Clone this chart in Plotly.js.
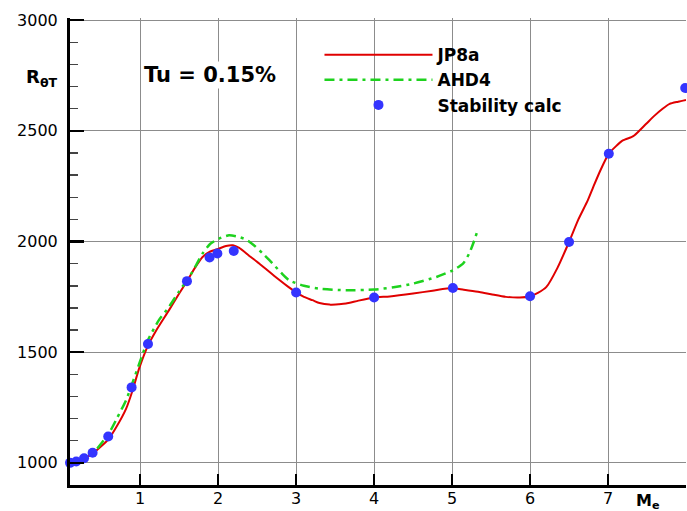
<!DOCTYPE html>
<html>
<head>
<meta charset="utf-8">
<script src="https://cdn.plot.ly/plotly-3.0.1.min.js"></script>
<style>html,body{margin:0;padding:0;background:#fff;}#chart{width:687px;height:511px;}</style>
</head>
<body>
<div id="chart"></div>
<script>
// JP8a correlation curve
const jp8aX = [0.1,0.2,0.3,0.4,0.5,0.6,0.7,0.82,0.9,0.99,1.1,1.2,1.37,1.5,1.6,1.7,1.8,1.9,2.01,2.1,2.19,2.27,2.4,2.53,2.66,2.79,2.9,3.0,3.1,3.21,3.3,3.43,3.55,3.64,3.8,4.0,4.2,4.5,4.75,5.0,5.15,5.35,5.5,5.69,5.87,6.0,6.1,6.21,6.35,6.5,6.62,6.74,6.81,6.9,7.01,7.1,7.19,7.3,7.34,7.49,7.6,7.7,7.79,7.9,8.0];
const jp8aY = [1000,1008,1022,1045,1075,1110,1165,1245,1325,1430,1530,1595,1690,1765,1821,1880,1930,1955,1968,1980,1983,1971,1935,1900,1862,1825,1795,1770,1750,1735,1722,1715,1717,1720,1733,1747,1752,1765,1778,1790,1782,1772,1762,1750,1747,1753,1768,1795,1880,1998,2100,2186,2246,2320,2397,2430,2457,2472,2480,2532,2570,2600,2622,2632,2640];
// AHD4 correlation curve
const ahd4X = [0.45,0.6,0.7,0.82,0.9,0.99,1.1,1.24,1.37,1.5,1.63,1.72,1.8,1.9,2.01,2.14,2.25,2.36,2.47,2.57,2.7,2.81,2.91,3.1,3.3,3.64,4.0,4.25,4.5,4.8,5.01,5.14,5.22,5.28,5.32];
const ahd4Y = [1065,1134,1200,1284,1360,1450,1555,1645,1705,1775,1840,1895,1946,1990,2013,2028,2022,2009,1980,1946,1900,1858,1825,1800,1787,1780,1783,1793,1810,1840,1870,1900,1946,2000,2043];
// Stability calculations
const stabX = [0.1,0.18,0.28,0.39,0.59,0.89,1.10,1.60,1.89,1.99,2.20,3.0,4.0,5.01,6.0,6.5,7.01,7.99];
const stabY = [1000,1006,1021,1046,1119,1341,1537,1821,1928,1946,1957,1770,1747,1790,1753,1998,2397,2694];
const seriesNames = ['JP8a','AHD4','Stability calc'];
const xTicks = [1,2,3,4,5,6,7,8];
const yTicks = [1000,1500,2000,2500,3000];

const FONT = 'DejaVu Sans, Arial, sans-serif';
const traces = [
  {x: jp8aX, y: jp8aY, name: seriesNames[0], mode: 'lines', line: {color: '#e00000', width: 2, shape: 'spline', smoothing: 0.6}},
  {x: ahd4X, y: ahd4Y, name: seriesNames[1], mode: 'lines', line: {color: '#1ed21e', width: 2.5, dash: '10px,5px,3px,5px', shape: 'spline', smoothing: 0.6}},
  {x: stabX, y: stabY, name: seriesNames[2], mode: 'markers', cliponaxis: false, marker: {color: '#3434ff', size: 10}}
];
const layout = {
  width: 687, height: 511,
  margin: {l: 70, r: 1, t: 18, b: 26},
  paper_bgcolor: '#fff', plot_bgcolor: '#fff',
  font: {family: FONT, size: 16, color: '#000'},
  showlegend: true,
  legend: {x: 0.405, y: 0.959, xanchor: 'left', yanchor: 'top', bgcolor: 'rgba(0,0,0,0)', borderwidth: 0,
           font: {family: FONT, size: 17, weight: 'bold', color: '#000'}, itemwidth: 108, tracegroupgap: 0},
  xaxis: {range: [0.1, 8], tickvals: xTicks, ticktext: xTicks.map(String), showgrid: true, gridcolor: '#8c8c8c', gridwidth: 1,
          zeroline: false, showline: true, linecolor: '#000', linewidth: 2.5, ticks: 'inside', ticklen: 11, tickwidth: 2.5, tickcolor: '#000',
          ticklabelstandoff: -3, tickfont: {family: FONT, size: 16, color: '#000'}},
  yaxis: {range: [900, 3010], tickvals: yTicks, ticktext: yTicks.map(String), showgrid: true, gridcolor: '#8c8c8c', gridwidth: 1,
          zeroline: false, showline: true, linecolor: '#000', linewidth: 3, ticks: 'inside', ticklen: 14, tickwidth: 2.5, tickcolor: '#000',
          ticklabelstandoff: 6, tickfont: {family: FONT, size: 16, color: '#000'},
          minor: {dtick: 100, tick0: 0, ticks: 'inside', ticklen: 8, tickwidth: 1.5, tickcolor: '#444', showgrid: false}},
  shapes: [
    {type: 'rect', xref: 'paper', yref: 'paper', x0: 0.377, x1: 0.847, y0: 0.767, y1: 0.985, fillcolor: '#fff', line: {width: 0}, layer: 'between'}
  ],
  annotations: [
    {xref: 'paper', yref: 'paper', x: 0.228, y: 0.878, xanchor: 'center', yanchor: 'middle', showarrow: false,
     text: '<b>Tu = 0.15%</b>', font: {family: FONT, size: 21, color: '#000'}, bgcolor: '#fff'},
    {xref: 'paper', yref: 'paper', x: -0.046, y: 0.872, xanchor: 'center', yanchor: 'middle', showarrow: false,
     text: '<b>R<sub>θT</sub></b>', font: {family: FONT, size: 18, color: '#000'}},
    {xref: 'paper', yref: 'paper', x: 0.915, y: -0.035, xanchor: 'left', yanchor: 'middle', showarrow: false,
     text: '<b>M<sub>e</sub></b>', font: {family: FONT, size: 16, color: '#000'}}
  ]
};
Plotly.newPlot('chart', traces, layout, {displayModeBar: false, staticPlot: true});
</script>
</body>
</html>
